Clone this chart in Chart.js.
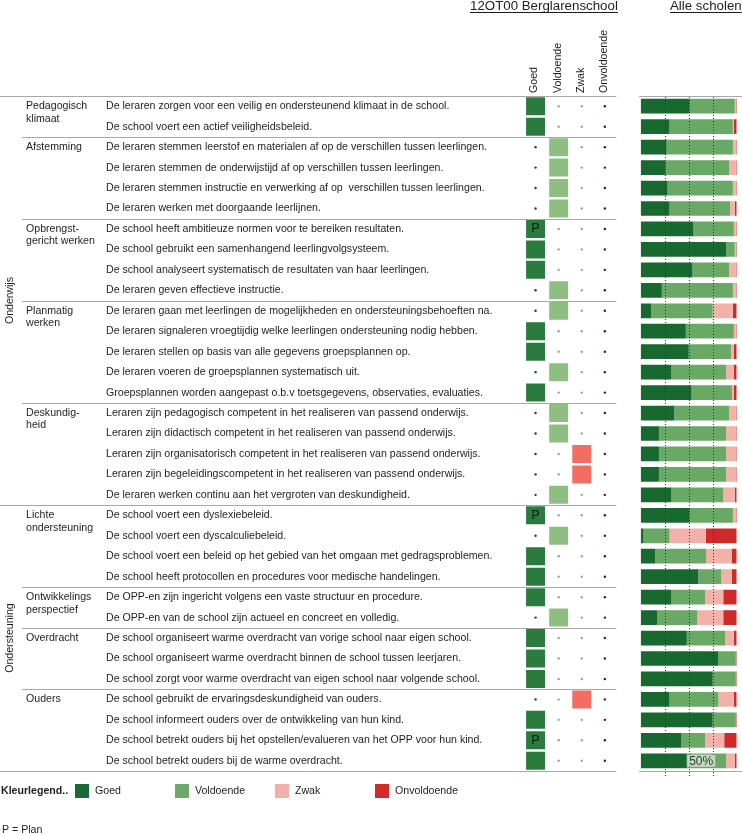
<!DOCTYPE html>
<html><head><meta charset="utf-8">
<script src="https://cdn.jsdelivr.net/npm/chart.js@4/dist/chart.umd.min.js"></script>
<style>
html,body{margin:0;padding:0;background:#fff;width:742px;height:835px;overflow:hidden}
#wrapA{position:absolute;left:0;top:0;width:742px;height:835px}
#wrapB{position:absolute;left:630px;top:0;width:112px;height:835px}
canvas{display:block}
</style></head><body>
<div id="wrapA"><canvas id="a" width="742" height="835"></canvas></div>
<div id="wrapB"><canvas id="b" width="112" height="835"></canvas></div>
<script>
// ---------- DATA ----------
const schoolTitle = '12OT00 Berglarenschool';
const allTitle = 'Alle scholen';
const items = [
  'De leraren zorgen voor een veilig en ondersteunend klimaat in de school.',
  'De school voert een actief veiligheidsbeleid.',
  'De leraren stemmen leerstof en materialen af op de verschillen tussen leerlingen.',
  'De leraren stemmen de onderwijstijd af op verschillen tussen leerlingen.',
  'De leraren stemmen instructie en verwerking af op  verschillen tussen leerlingen.',
  'De leraren werken met doorgaande leerlijnen.',
  'De school heeft ambitieuze normen voor te bereiken resultaten.',
  'De school gebruikt een samenhangend leerlingvolgsysteem.',
  'De school analyseert systematisch de resultaten van haar leerlingen.',
  'De leraren geven effectieve instructie.',
  'De leraren gaan met leerlingen de mogelijkheden en ondersteuningsbehoeften na.',
  'De leraren signaleren vroegtijdig welke leerlingen ondersteuning nodig hebben.',
  'De leraren stellen op basis van alle gegevens groepsplannen op.',
  'De leraren voeren de groepsplannen systematisch uit.',
  'Groepsplannen worden aangepast o.b.v toetsgegevens, observaties, evaluaties.',
  'Leraren zijn pedagogisch competent in het realiseren van passend onderwijs.',
  'Leraren zijn didactisch competent in het realiseren van passend onderwijs.',
  'Leraren zijn organisatorisch competent in het realiseren van passend onderwijs.',
  'Leraren zijn begeleidingscompetent in het realiseren van passend onderwijs.',
  'De leraren werken continu aan het vergroten van deskundigheid.',
  'De school voert een dyslexiebeleid.',
  'De school voert een dyscalculiebeleid.',
  'De school voert een beleid op het gebied van het omgaan met gedragsproblemen.',
  'De school heeft protocollen en procedures voor medische handelingen.',
  'De OPP-en zijn ingericht volgens een vaste structuur en procedure.',
  'De OPP-en van de school zijn actueel en concreet en volledig.',
  'De school organiseert warme overdracht van vorige school naar eigen school.',
  'De school organiseert warme overdracht binnen de school tussen leerjaren.',
  'De school zorgt voor warme overdracht van eigen school naar volgende school.',
  'De school gebruikt de ervaringsdeskundigheid van ouders.',
  'De school informeert ouders over de ontwikkeling van hun kind.',
  'De school betrekt ouders bij het opstellen/evalueren van het OPP voor hun kind.',
  'De school betrekt ouders bij de warme overdracht.'
];
const categories = [['Pedagogisch','klimaat'],['Afstemming'],['Opbrengst-','gericht werken'],['Planmatig','werken'],['Deskundig-','heid'],['Lichte','ondersteuning'],['Ontwikkelings','perspectief'],['Overdracht'],['Ouders']];
const categoryCounts = [2,4,4,5,5,4,2,3,4];
const groups = ['Onderwijs','Ondersteuning'];
const groupCounts = [20,13];
const ratingColumns = ['Goed','Voldoende','Zwak','Onvoldoende'];
// school rating per item: index into ratingColumns
const schoolRating = [0,0,1,1,1,1,0,0,0,1, 1,0,0,1,0,1,1,2,2,1, 0,1,0,0,0,1,0,0,0,2, 0,0,0];
// P = Plan markers
const planFlags = [0,0,0,0,0,0,1,0,0,0, 0,0,0,0,0,0,0,0,0,0, 1,0,0,0,0,0,0,0,0,0, 0,1,0];
// Alle scholen (percent)
const goed        = [51,30,27,26,28,30,55,89,54,22, 11,47,50,32,53,35,19,19,19,32, 51, 3,15,60,32,17,48,81,75,30, 75,42,48];
const voldoende   = [47,66,69,66,68,63,42, 9,38,74, 64,50,44,57,42,57,70,70,70,54, 45,27,53,24,35,42,40,18,24,51, 24,25,41];
const zwak        = [ 1, 1, 3, 7, 3, 5, 2, 1, 7, 3, 21, 2, 3, 8, 2, 7,10,10,10,12,  3,38,27,11,19,27, 9, 0, 0,16,  0,20, 9];
const onvoldoende = [ 1, 3, 1, 1, 1, 2, 1, 1, 1, 1,  4, 1, 3, 3, 3, 1, 1, 1, 1, 2,  1,32, 5, 5,14,14, 3, 1, 1, 3,  1,13, 2];
const percentTicks = [25,50,75];
const percentLabel = 50;
const legendTitle = 'Kleurlegend..';
const planNote = 'P = Plan';

// ---------- STYLE ----------
const FONT = '"Liberation Sans", Arial, sans-serif';
const barColors = ['#17692f','#6aa865','#f2b2aa','#cf2a2a'];
const cellColors = ['#2b7b3f','#8fbe82','#f26d64','#cf2a2a'];
const dotColors = ['#333333','#a0a0a0','#a0a0a0','#5a1010'];
const legendColors = ['#1b6a35','#6ea86a','#f1b1aa','#d12b2b'];
const lineColor = '#a8a8a8';
const textColor = '#1e1e1e';

// ---------- CHART A: school matrix + texts ----------
const cellDatasets = [0,1,2].map(c => ({
  type: 'bar',
  label: ratingColumns[c],
  indexAxis: 'y',
  data: schoolRating.map(r => r === c ? [c + 0.09, c + 0.91] : null),
  backgroundColor: cellColors[c],
  borderWidth: 0,
  grouped: false,
  barPercentage: 0.88,
  categoryPercentage: 1
}));
const dotDatasets = [0,1,2,3].map(c => ({
  type: 'scatter',
  label: 'dot ' + ratingColumns[c],
  data: schoolRating.map((r,i) => r === c ? null : {x: c + 0.5, y: items[i]}).filter(d => d),
  pointRadius: 1.2,
  pointBackgroundColor: dotColors[c],
  pointBorderWidth: 0,
  showLine: false
}));

const textPlugin = {
  id: 'texts',
  afterDraw(chart) {
    const ctx = chart.ctx, ys = chart.scales.y, xs = chart.scales.x, ca = chart.chartArea;
    const rowY = i => ys.getPixelForValue(i);
    const bound = k => k <= 0 ? ca.top : (k >= items.length ? ca.bottom : (rowY(k-1) + rowY(k)) / 2);
    ctx.save();
    ctx.fillStyle = textColor;
    // titles
    ctx.font = '13.3px ' + FONT;
    ctx.textBaseline = 'alphabetic';
    ctx.textAlign = 'left';
    const drawUnder = (t, x, y) => {
      ctx.fillText(t, x, y);
      const w = ctx.measureText(t).width;
      ctx.fillRect(x, y + 2, w, 1);
    };
    drawUnder(schoolTitle, 470, 10);
    drawUnder(allTitle, 670, 10);
    // column headers
    ctx.font = '10.6px ' + FONT;
    ctx.textBaseline = 'middle';
    ratingColumns.forEach((n, c) => {
      ctx.save();
      ctx.translate(xs.getPixelForValue(c + 0.5) - 1, ca.top - 3);
      ctx.rotate(-Math.PI / 2);
      ctx.fillText(n, 0, 0);
      ctx.restore();
    });
    // lines
    ctx.strokeStyle = lineColor;
    ctx.lineWidth = 1;
    const hline = (x1, x2, y) => { ctx.beginPath(); ctx.moveTo(x1, Math.round(y) + 0.5); ctx.lineTo(x2, Math.round(y) + 0.5); ctx.stroke(); };
    hline(0, ca.right, ca.top);
    hline(0, ca.right, ca.bottom);
    hline(639, 742, ca.top);
    hline(639, 742, ca.bottom);
    let k = 0;
    categoryCounts.forEach((n, ci) => {
      if (k > 0) hline(groupCounts[0] === k ? 0 : 22, ca.right, bound(k));
      // category label
      ctx.fillStyle = textColor;
      ctx.textAlign = 'left';
      categories[ci].forEach((line, li) => ctx.fillText(line, 26, rowY(k) + li * 12.5));
      k += n;
    });
    // item labels
    items.forEach((t, i) => ctx.fillText(t, 106, rowY(i)));
    // group labels
    let g0 = 0;
    groups.forEach((g, gi) => {
      const yc = (bound(g0) + bound(g0 + groupCounts[gi])) / 2;
      ctx.save();
      ctx.translate(10, yc);
      ctx.rotate(-Math.PI / 2);
      ctx.textAlign = 'center';
      ctx.fillText(g, 0, 0);
      ctx.restore();
      g0 += groupCounts[gi];
    });
    // P markers
    ctx.font = '12px ' + FONT;
    ctx.textAlign = 'center';
    ctx.fillStyle = '#111';
    planFlags.forEach((p, i) => { if (p) ctx.fillText('P', xs.getPixelForValue(schoolRating[i] + 0.5), rowY(i)); });
    // legend
    ctx.textAlign = 'left';
    ctx.fillStyle = textColor;
    ctx.font = 'bold 10.6px ' + FONT;
    ctx.fillText(legendTitle, 1, 791);
    ctx.font = '10.6px ' + FONT;
    ratingColumns.forEach((n, c) => {
      const x = 75 + c * 100;
      ctx.fillStyle = legendColors[c];
      ctx.fillRect(x, 784, 14, 14);
      ctx.fillStyle = textColor;
      ctx.fillText(n, x + 20, 791);
    });
    ctx.fillText(planNote, 2, 830);
    ctx.restore();
  }
};

new Chart(document.getElementById('a'), {
  type: 'bar',
  data: { labels: items, datasets: [...cellDatasets, ...dotDatasets] },
  options: {
    responsive: false,
    animation: false,
    indexAxis: 'y',
    layout: { padding: { left: 524, right: 742 - 616.4, top: 96, bottom: 835 - 771 } },
    scales: {
      x: { type: 'linear', min: 0, max: 4, display: false },
      y: { type: 'category', labels: items, offset: true, display: false }
    },
    plugins: { legend: { display: false }, tooltip: { enabled: false } }
  },
  plugins: [textPlugin]
});

// ---------- CHART B: Alle scholen stacked bars ----------
const seriesB = [goed, voldoende, zwak, onvoldoende];
const overlayPlugin = {
  id: 'overlay',
  afterDatasetsDraw(chart) {
    const ctx = chart.ctx, xs = chart.scales.x, ys = chart.scales.y, ca = chart.chartArea;
    ctx.save();
    ctx.strokeStyle = '#333';
    ctx.lineWidth = 1;
    ctx.setLineDash([1, 2]);
    percentTicks.forEach(v => {
      const x = Math.round(xs.getPixelForValue(v)) + 0.5;
      ctx.beginPath(); ctx.moveTo(x, ca.top + 1); ctx.lineTo(x, ca.bottom + 5); ctx.stroke();
    });
    ctx.setLineDash([]);
    const x = xs.getPixelForValue(percentLabel) - 1.5;
    const y = ys.getPixelForValue(items.length - 1);
    ctx.font = '12px ' + FONT;
    const t = percentLabel + '%';
    const w = ctx.measureText(t).width + 4;
    ctx.fillStyle = 'rgba(255,255,255,0.6)';
    ctx.fillRect(x, y - 6, w, 12);
    ctx.fillStyle = '#333';
    ctx.textBaseline = 'middle';
    ctx.fillText(t, x + 2, y + 1);
    ctx.restore();
  }
};
new Chart(document.getElementById('b'), {
  type: 'bar',
  data: {
    labels: items,
    datasets: seriesB.map((d, c) => ({
      label: ratingColumns[c], data: d, backgroundColor: barColors[c], borderWidth: 0,
      barPercentage: 0.72, categoryPercentage: 1
    }))
  },
  options: {
    responsive: false,
    animation: false,
    indexAxis: 'y',
    layout: { padding: { left: 10.7, right: 5.3, top: 96, bottom: 835 - 771 } },
    scales: {
      x: { type: 'linear', stacked: true, min: 0, max: 100, display: false },
      y: { type: 'category', stacked: true, offset: true, display: false }
    },
    plugins: { legend: { display: false }, tooltip: { enabled: false } }
  },
  plugins: [overlayPlugin]
});
</script>
</body></html>
